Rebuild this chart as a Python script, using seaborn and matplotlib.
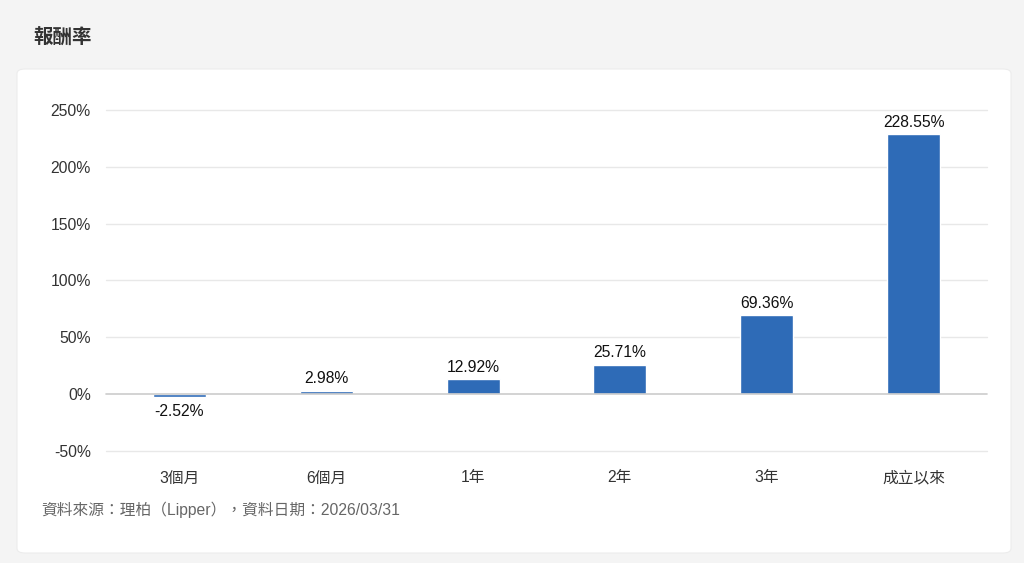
import numpy as np
import pandas as pd
import matplotlib
matplotlib.use("Agg")
import matplotlib.pyplot as plt
from matplotlib.patches import FancyBboxPatch
import seaborn as sns

#--------------------data------------------------------------------------------
periods = ["3個月", "6個月", "1年", "2年", "3年", "成立以來"]
returns = [-2.52, 2.98, 12.92, 25.71, 69.36, 228.55]
y_ticks = [-50, 0, 50, 100, 150, 200, 250]

title_text = "報酬率"
footer_text = "資料來源：理柏（Lipper），資料日期：2026/03/31"

#--------------------style-----------------------------------------------------
sns.set_style("white")
plt.rcParams["font.family"] = ["Liberation Sans", "Noto Sans CJK TC", "DejaVu Sans"]

bar_color = "#2e6bb7"
W, H = 1024, 563

df = pd.DataFrame({"period": periods, "ret": returns})

fig = plt.figure(figsize=(W / 100, H / 100), dpi=100)
fig.patch.set_facecolor("#f4f4f4")

# white card with rounded corners (behind the axes)
card = FancyBboxPatch((17 / W, 1 - 553 / H), (1011 - 17) / W, (553 - 69) / H,
                      boxstyle="round,pad=0,rounding_size=0.008",
                      transform=fig.transFigure, facecolor="white",
                      edgecolor="#ececec", linewidth=0.8, zorder=-5)
fig.patches.append(card)

fig.text(33 / W, 1 - 38 / H, title_text, fontsize=14, fontweight="bold",
         color="#333333", va="center", ha="left",
         family=["Noto Sans CJK TC", "DejaVu Sans"])

ax = fig.add_axes([106 / W, 1 - 451 / H, (987 - 106) / W, (451 - 110) / H])
ax.set_facecolor("none")
ax.set_zorder(2)

sns.barplot(data=df, x="period", y="ret", color=bar_color, width=0.36,
            saturation=1, ax=ax, zorder=3)

ax.set_ylim(-50, 250)
ax.set_yticks(y_ticks)
ax.set_yticklabels([f"{v}%" for v in y_ticks])
ax.set_xlim(-0.5, len(periods) - 0.5)

# gridlines
for v in y_ticks:
    if v == 0:
        ax.axhline(v, color="#cccccc", linewidth=1.2, zorder=4, clip_on=False)
    else:
        ax.axhline(v, color="#e8e8e8", linewidth=1, zorder=1, clip_on=False)

for s in ax.spines.values():
    s.set_visible(False)
ax.tick_params(axis="both", length=0, labelsize=11.3, labelcolor="#333333")
ax.tick_params(axis="y", pad=11)
ax.tick_params(axis="x", pad=14)
ax.set_xlabel("")
ax.set_ylabel("")

# value labels
for i, v in enumerate(returns):
    if v >= 0:
        ax.text(i, v + 4, f"{v:.2f}%", ha="center", va="bottom",
                fontsize=11.3, color="#111111", zorder=5)
    else:
        ax.text(i, v - 6, f"{v:.2f}%", ha="center", va="top",
                fontsize=11.3, color="#111111", zorder=5)

fig.text(41 / W, 1 - 510 / H, footer_text, fontsize=11.3, color="#666666",
         va="center", ha="left")

fig.savefig("out.png", dpi=100, facecolor=fig.get_facecolor())
